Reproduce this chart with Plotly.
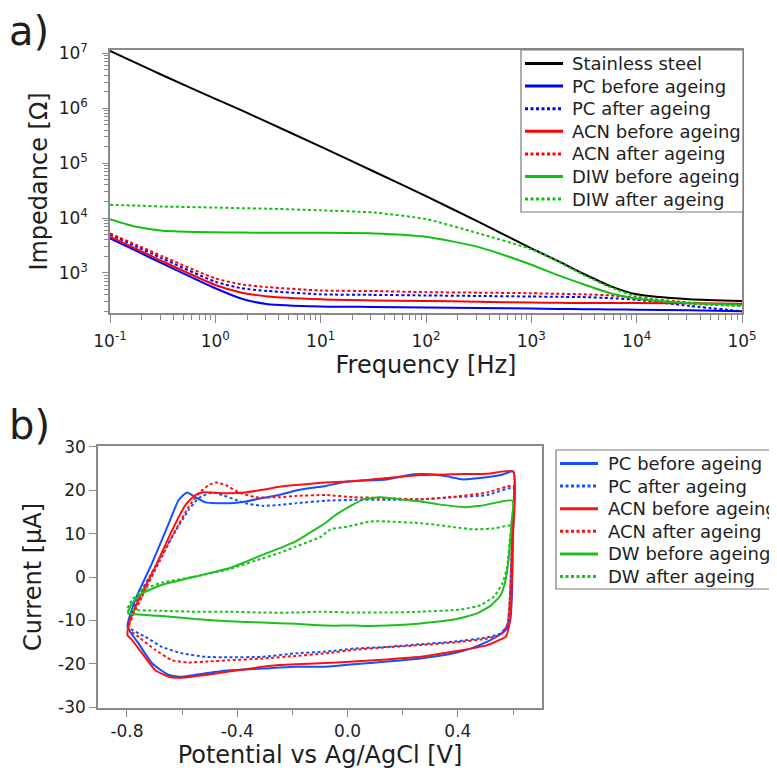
import plotly.graph_objects as go

# ---------------- (a) impedance data ----------------
freq_hz = [0.1, 0.178, 0.316, 1.0, 1.78, 3.16, 10, 31.6, 100, 316, 1000, 1778, 3162, 5623, 10000, 31623, 100000]

z_steel = [1.10e7, 6.6e6, 3.98e6, 1.48e6, 9.1e5, 5.5e5, 2.0e5, 7.1e4, 2.5e4, 8.5e3, 2.8e3, 1660, 955, 575, 407, 331, 309]
z_pc_before = [4270, 2510, 1480, 525, 339, 269, 245, 240, 234, 229, 224, 221, 219, 216, 214, 209, 200]
z_pc_after = [5010, 3020, 1820, 692, 525, 468, 407, 398, 389, 380, 372, 367, 363, 347, 324, 251, 200]
z_acn_before = [4570, 2750, 1620, 603, 437, 372, 331, 316, 309, 299, 288, 285, 282, 282, 282, 279, 275]
z_acn_after = [5250, 3240, 2000, 794, 617, 550, 479, 468, 447, 437, 427, 417, 407, 389, 355, 288, 251]
z_diw_before = [9550, 6920, 5890, 5500, 5430, 5370, 5370, 5250, 4570, 2950, 1410, 912, 617, 427, 339, 282, 263]
z_diw_after = [17400, 16800, 16200, 15500, 15100, 14800, 13800, 12600, 9550, 5250, 2690, 1620, 912, 550, 372, 275, 251]

freq_tickvals = [0.1, 1, 10, 100, 1000, 10000, 100000]
freq_ticktext = ["10<sup>-1</sup>", "10<sup>0</sup>", "10<sup>1</sup>", "10<sup>2</sup>",
                 "10<sup>3</sup>", "10<sup>4</sup>", "10<sup>5</sup>"]
imp_tickvals = [1e3, 1e4, 1e5, 1e6, 1e7]
imp_ticktext = ["10<sup>3</sup>", "10<sup>4</sup>", "10<sup>5</sup>", "10<sup>6</sup>", "10<sup>7</sup>"]

# ---------------- (b) cyclic voltammetry data ----------------
v_pc_before = [-0.798, -0.770, -0.709, -0.648, -0.612, -0.582, -0.552, -0.515, -0.430, -0.370, -0.310, -0.250,
               -0.190, -0.127, -0.079, 0.000, 0.143, 0.240, 0.300, 0.360, 0.420, 0.480, 0.555, 0.601, 0.599,
               0.596, 0.590, 0.579, 0.555, 0.507, 0.446, 0.385, 0.264, 0.143, 0.022, -0.079, -0.188, -0.309,
               -0.430, -0.515, -0.600, -0.648, -0.709, -0.758, -0.798]
i_pc_before = [-11.5, -5.3, 3.2, 12.4, 17.8, 19.5, 18.4, 17.2, 17.0, 17.4, 18.2, 18.9, 19.9, 20.6, 21.0, 22.0,
               22.5, 23.7, 23.7, 23.2, 22.5, 22.8, 23.5, 24.3, 10.0, -4.0, -9.9, -11.8, -13.2, -14.9, -16.5,
               -17.6, -18.8, -19.5, -20.1, -20.7, -20.7, -21.1, -21.5, -22.2, -23.0, -22.6, -19.9, -15.3, -11.5]

v_pc_after = [-0.794, -0.758, -0.697, -0.636, -0.576, -0.539, -0.491, -0.455, -0.406, -0.370, -0.309, -0.248,
              -0.188, -0.079, 0.022, 0.143, 0.264, 0.385, 0.507, 0.601, 0.598, 0.592, 0.588, 0.579, 0.555,
              0.507, 0.385, 0.264, 0.143, 0.022, -0.079, -0.188, -0.309, -0.430, -0.515, -0.600, -0.673,
              -0.733, -0.794]
i_pc_after = [-11.5, -4.5, 2.4, 9.3, 15.5, 18.2, 19.5, 18.9, 17.8, 17.0, 16.4, 16.6, 17.0, 17.6, 17.8, 17.8,
              17.9, 18.4, 18.9, 20.5, 12.4, 0.8, -5.3, -11.1, -13.0, -13.9, -14.9, -15.5, -16.1, -16.5, -17.2,
              -17.6, -18.4, -18.5, -18.4, -17.6, -16.1, -13.8, -11.5]

v_acn_before = [-0.798, -0.794, -0.758, -0.697, -0.636, -0.588, -0.552, -0.527, -0.430, -0.370, -0.309, -0.248,
                -0.188, -0.079, 0.000, 0.143, 0.264, 0.385, 0.507, 0.601, 0.599, 0.593, 0.585, 0.573, 0.555,
                0.507, 0.385, 0.264, 0.143, 0.022, -0.099, -0.188, -0.248, -0.309, -0.430, -0.515, -0.600,
                -0.648, -0.697, -0.745, -0.782, -0.798]
i_acn_before = [-13.4, -11.0, -5.3, 2.4, 10.8, 16.6, 18.9, 19.5, 19.3, 19.5, 20.1, 20.8, 21.2, 21.8, 22.0, 22.8,
                23.5, 23.7, 23.8, 24.3, 8.5, -6.0, -11.5, -13.8, -14.4, -15.7, -17.2, -18.4, -19.0, -19.5,
                -19.9, -20.1, -20.3, -20.7, -21.8, -22.6, -23.2, -23.0, -21.5, -17.6, -14.5, -13.4]

v_acn_after = [-0.794, -0.745, -0.685, -0.624, -0.576, -0.539, -0.503, -0.479, -0.442, -0.394, -0.333, -0.248,
               -0.188, -0.079, 0.022, 0.143, 0.264, 0.385, 0.507, 0.601, 0.598, 0.592, 0.588, 0.579, 0.555,
               0.507, 0.385, 0.264, 0.143, 0.022, -0.079, -0.188, -0.309, -0.430, -0.515, -0.576, -0.636,
               -0.697, -0.758, -0.794]
i_acn_after = [-11.8, -4.5, 3.2, 10.8, 16.2, 19.3, 21.2, 21.8, 21.2, 19.5, 18.4, 18.4, 18.7, 18.9, 18.4, 18.2,
               17.9, 18.5, 19.5, 21.0, 12.0, 0.8, -5.3, -11.1, -13.2, -14.2, -15.1, -15.7, -16.2, -16.8, -17.6,
               -18.2, -18.8, -19.2, -19.5, -19.7, -19.2, -16.8, -13.8, -11.8]

v_dw_before = [-0.798, -0.782, -0.745, -0.673, -0.552, -0.430, -0.370, -0.309, -0.248, -0.188, -0.127, -0.079,
               -0.050, 0.000, 0.058, 0.119, 0.204, 0.264, 0.325, 0.422, 0.482, 0.598, 0.594, 0.585, 0.573,
               0.555, 0.519, 0.470, 0.385, 0.264, 0.143, 0.070, 0.022, -0.079, -0.188, -0.309, -0.430, -0.552,
               -0.673, -0.745, -0.798]
i_dw_before = [-8.4, -6.1, -3.8, -1.8, 0.1, 2.0, 3.5, 5.1, 6.6, 8.2, 10.6, 12.5, 14.0, 16.0, 17.9, 18.4, 17.8,
               17.4, 16.8, 16.1, 16.4, 17.6, 12.4, 4.7, -0.7, -4.2, -6.6, -8.4, -9.8, -10.7, -11.2, -11.3, -11.2,
               -11.2, -10.8, -10.5, -10.2, -9.7, -9.0, -8.7, -8.5]

v_dw_after = [-0.798, -0.782, -0.745, -0.673, -0.552, -0.430, -0.309, -0.248, -0.188, -0.099, -0.061, 0.000,
              0.082, 0.143, 0.264, 0.325, 0.385, 0.458, 0.531, 0.592, 0.588, 0.579, 0.561, 0.531, 0.482, 0.410,
              0.264, 0.143, 0.022, -0.099, -0.188, -0.309, -0.430, -0.552, -0.673, -0.798]
i_dw_after = [-7.2, -5.3, -3.0, -1.3, 0.1, 1.8, 4.3, 5.5, 7.0, 9.2, 11.0, 11.6, 12.8, 12.8, 12.4, 12.0, 11.5,
              11.0, 11.2, 11.8, 8.5, 2.4, -1.5, -4.5, -6.5, -7.5, -8.0, -8.2, -8.2, -8.0, -8.2, -8.2, -8.0, -8.0,
              -7.8, -7.6]

cv_xtickvals = [-0.8, -0.4, 0.0, 0.4]
cv_xticktext = ["-0.8", "-0.4", "0.0", "0.4"]
cv_ytickvals = [-30, -20, -10, 0, 10, 20, 30]
cv_yticktext = ["-30", "-20", "-10", "0", "10", "20", "30"]

# ---------------- styling ----------------
FONT = "DejaVu Sans"
TXT = "#1e1e1e"
BLACK = "#000000"
BLUE_A, RED_A, GREEN_A = "#0000ff", "#ff0000", "#12c012"
BLUE_B, RED_B, GREEN_B = "#1450ff", "#ff1010", "#1cbf1c"
DOT = "3px,2.5px"
AXC = "#8a8a8a"

# The page body has an 8 px margin: the figure is sized so that it fills the
# 777 x 772 window exactly, and window pixels are converted to paper units.
OFF = 8
W, H = 777 - OFF, 772 - OFF


def fx(X):
    return (X - OFF) / W


def fy(Y):
    return 1 - (Y - OFF) / H


fig = go.Figure()

top = [
    ("Stainless steel", z_steel, BLACK, "solid"),
    ("PC before ageing", z_pc_before, BLUE_A, "solid"),
    ("PC after ageing", z_pc_after, BLUE_A, DOT),
    ("ACN before ageing", z_acn_before, RED_A, "solid"),
    ("ACN after ageing", z_acn_after, RED_A, DOT),
    ("DIW before ageing", z_diw_before, GREEN_A, "solid"),
    ("DIW after ageing", z_diw_after, GREEN_A, DOT),
]
for name, z, col, dash in top:
    fig.add_trace(go.Scatter(x=freq_hz, y=z, name=name, mode="lines", showlegend=False,
                             line=dict(color=col, width=2, dash=dash, shape="spline", smoothing=0.6),
                             xaxis="x", yaxis="y"))

bottom = [
    ("PC before ageing", v_pc_before, i_pc_before, BLUE_B, "solid"),
    ("PC after ageing", v_pc_after, i_pc_after, BLUE_B, DOT),
    ("ACN before ageing", v_acn_before, i_acn_before, RED_B, "solid"),
    ("ACN after ageing", v_acn_after, i_acn_after, RED_B, DOT),
    ("DW before ageing", v_dw_before, i_dw_before, GREEN_B, "solid"),
    ("DW after ageing", v_dw_after, i_dw_after, GREEN_B, DOT),
]
for name, v, i, col, dash in bottom:
    fig.add_trace(go.Scatter(x=v, y=i, name=name, mode="lines", showlegend=False,
                             line=dict(color=col, width=2, dash=dash, shape="spline", smoothing=0.5),
                             xaxis="x2", yaxis="y2"))

# ---------------- hand-drawn legends (boxes, samples, labels) ----------------
shapes = []
annotations = []


def legend_box(entries, x0, y0, x1, y1, row0, row_h, lx0, lx1, tx):
    shapes.append(dict(type="rect", xref="paper", yref="paper", x0=fx(x0), x1=fx(x1),
                       y0=fy(y1), y1=fy(y0), line=dict(color="#7a7a7a", width=1.2),
                       fillcolor="white", layer="above"))
    for k, (name, col, dash) in enumerate(entries):
        yc = row0 + k * row_h
        shapes.append(dict(type="line", xref="paper", yref="paper", x0=fx(lx0), x1=fx(lx1),
                           y0=fy(yc), y1=fy(yc), layer="above",
                           line=dict(color=col, width=3, dash=dash)))
        annotations.append(dict(text=name, xref="paper", yref="paper", x=fx(tx), y=fy(yc),
                                xanchor="left", yanchor="middle", showarrow=False,
                                font=dict(family=FONT, size=18, color=TXT)))


legend_box([(n, c, d) for n, _, c, d in top], 521, 50, 743, 212, 63.5, 22.6, 525, 563, 570)
legend_box([(n, c, d) for n, _, _, c, d in bottom], 556, 450, 800, 589, 463.5, 22.6, 560, 598, 606)

annotations += [
    dict(text="a)", x=fx(7), y=fy(31), xref="paper", yref="paper", xanchor="left", yanchor="middle",
         showarrow=False, font=dict(family=FONT, size=40, color=TXT)),
    dict(text="b)", x=fx(7), y=fy(425), xref="paper", yref="paper", xanchor="left", yanchor="middle",
         showarrow=False, font=dict(family=FONT, size=40, color=TXT)),
]

tickfont = dict(family=FONT, size=17, color=TXT)
titlefont = dict(family=FONT, size=24, color=TXT)

fig.update_layout(
    width=W, height=H,
    margin=dict(l=0, r=0, t=0, b=0, autoexpand=False),
    paper_bgcolor="white", plot_bgcolor="white",
    font=dict(family=FONT, color=TXT),
    showlegend=False,
    xaxis=dict(type="log", domain=[fx(110), fx(742)], range=[-1, 5], anchor="y",
               tickmode="array", tickvals=freq_tickvals, ticktext=freq_ticktext,
               ticks="outside", ticklen=8, tickcolor=AXC, tickwidth=1,
               minor=dict(ticks="outside", ticklen=5, tickcolor=AXC, dtick="D1", showgrid=False),
               showline=True, linecolor=AXC, linewidth=1.5, mirror=True, showgrid=False, zeroline=False,
               tickfont=tickfont, ticklabelstandoff=4,
               title=dict(text="Frequency [Hz]", font=titlefont, standoff=2)),
    yaxis=dict(type="log", domain=[fy(313), fy(50)], range=[2.27, 7.06], anchor="x",
               tickmode="array", tickvals=imp_tickvals, ticktext=imp_ticktext,
               ticks="outside", ticklen=6, tickcolor=AXC, tickwidth=1,
               minor=dict(ticks="outside", ticklen=4, tickcolor=AXC, dtick="D1", showgrid=False),
               showline=True, linecolor=AXC, linewidth=1.5, mirror=True, showgrid=False, zeroline=False,
               tickfont=tickfont, ticklabelstandoff=11,
               title=dict(text="Impedance [Ω]", font=titlefont, standoff=4)),
    xaxis2=dict(domain=[fx(98), fx(542)], range=[-0.905, 0.705], anchor="y2",
                tickmode="array", tickvals=cv_xtickvals, ticktext=cv_xticktext,
                ticks="outside", ticklen=7, tickcolor=AXC, tickwidth=1,
                minor=dict(ticks="outside", ticklen=5, tickcolor=AXC, tickvals=[-0.6, -0.2, 0.2, 0.6], showgrid=False),
                showline=True, linecolor=AXC, linewidth=1.5, mirror=True, showgrid=False, zeroline=False,
                tickfont=tickfont, ticklabelstandoff=0,
                title=dict(text="Potential vs Ag/AgCl [V]", font=titlefont, standoff=5)),
    yaxis2=dict(domain=[fy(708), fy(446)], range=[-30.2, 30.2], anchor="x2",
                tickmode="array", tickvals=cv_ytickvals, ticktext=cv_yticktext,
                ticks="outside", ticklen=7, tickcolor=AXC, tickwidth=1,
                showline=True, linecolor=AXC, linewidth=1.5, mirror=True, showgrid=False, zeroline=False,
                tickfont=tickfont,
                title=dict(text="Current [µA]", font=titlefont, standoff=10)),
    shapes=shapes,
    annotations=annotations,
)

fig.write_html("out.html")
